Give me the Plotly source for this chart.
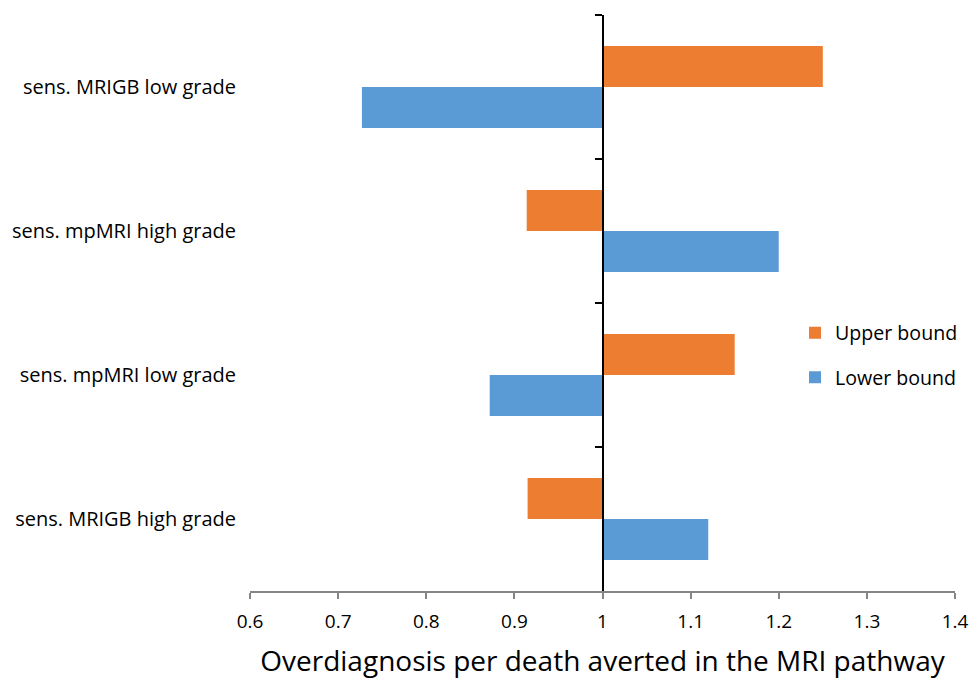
import plotly.graph_objects as go

categories = ["sens. MRIGB low grade", "sens. mpMRI high grade",
              "sens. mpMRI low grade", "sens. MRIGB high grade"]
upper_bound = [1.25, 0.914, 1.15, 0.915]
lower_bound = [0.727, 1.20, 0.872, 1.12]
x_ticks = [0.6, 0.7, 0.8, 0.9, 1.0, 1.1, 1.2, 1.3, 1.4]
x_tick_labels = ["0.6", "0.7", "0.8", "0.9", "1", "1.1", "1.2", "1.3", "1.4"]
baseline = 1.0

FONT = "Open Sans"

fig = go.Figure()
fig.add_trace(go.Bar(
    name="Upper bound", y=categories, x=[v - baseline for v in upper_bound],
    base=baseline, orientation="h", marker=dict(color="#ED7D31", line=dict(width=0)),
    legendgroup="u", hoverinfo="name+y"))
fig.add_trace(go.Bar(
    name="Lower bound", y=categories, x=[v - baseline for v in lower_bound],
    base=baseline, orientation="h", marker=dict(color="#5B9BD5", line=dict(width=0)),
    legendgroup="l", hoverinfo="name+y"))
# invisible helper trace so the vertical category axis at x = 1 is drawn
fig.add_trace(go.Scatter(
    y=categories, x=[baseline] * len(categories), yaxis="y2", mode="markers",
    marker=dict(opacity=0), showlegend=False, hoverinfo="skip"))

fig.update_layout(
    width=970, height=679,
    margin=dict(l=250, r=15, t=15, b=88, autoexpand=False),
    paper_bgcolor="white", plot_bgcolor="white",
    barmode="group", bargap=0.43, bargroupgap=0,
    font=dict(family=FONT, size=19, color="#000000"),
    xaxis=dict(
        range=[0.6, 1.4], tickvals=x_ticks, ticktext=x_tick_labels,
        showgrid=False, zeroline=False, showline=True, linecolor="#868686", linewidth=1.5,
        ticks="outside", ticklen=6, tickcolor="#868686", tickwidth=1.5,
        tickfont=dict(size=19, family=FONT), ticklabelstandoff=6, automargin=False,
        title=dict(text="Overdiagnosis per death averted in the MRI pathway",
                   font=dict(size=28, family=FONT), standoff=32),
    ),
    yaxis=dict(
        type="category", categoryorder="array", categoryarray=categories,
        autorange="reversed", showgrid=False, zeroline=False, showline=False,
        ticks="", tickfont=dict(size=20, family=FONT), ticklabelstandoff=13,
        automargin=False,
    ),
    yaxis2=dict(
        type="category", overlaying="y", matches="y", anchor="free", position=0.5,
        showgrid=False, zeroline=False, showline=True, linecolor="black", linewidth=2,
        ticks="outside", tickson="boundaries", ticklen=7, tickcolor="black", tickwidth=2,
        showticklabels=False, categoryorder="array", categoryarray=categories,
        automargin=False,
    ),
    legend=dict(x=0.8196, y=0.5384, xref="container", yref="container",
                xanchor="left", yanchor="top",
                font=dict(size=19.6, family=FONT), tracegroupgap=16,
                itemwidth=30, bgcolor="rgba(0,0,0,0)"),
    showlegend=True,
)

fig.write_html(
    "out.html",
    config={"displayModeBar": False},
    post_script="document.body.style.margin='0';document.body.style.overflow='hidden';",
)
